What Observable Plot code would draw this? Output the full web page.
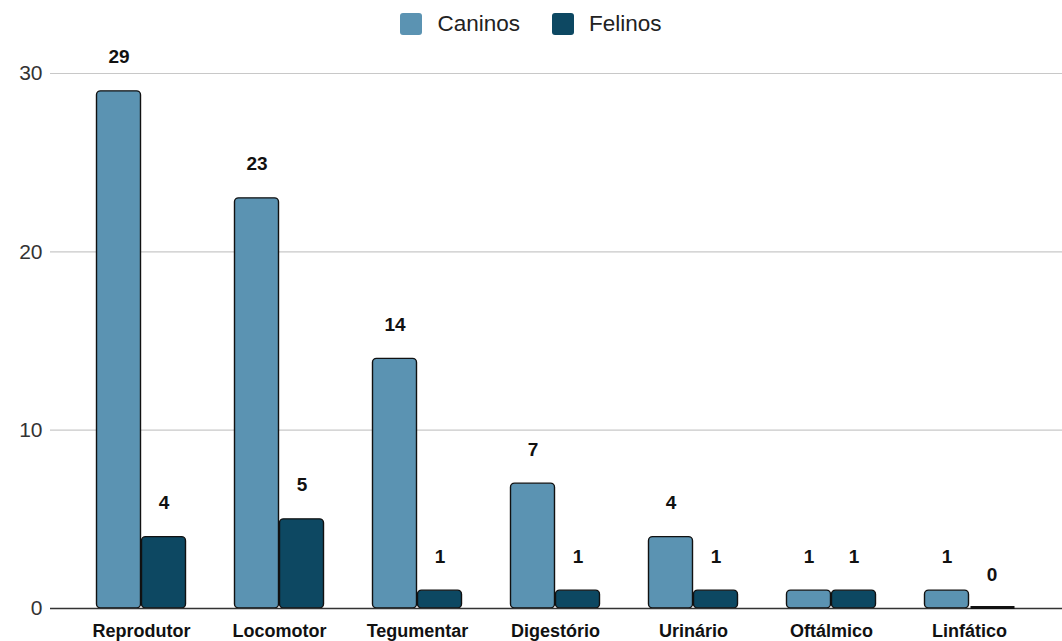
<!DOCTYPE html>
<html>
<head>
<meta charset="utf-8">
<script src="https://cdn.jsdelivr.net/npm/d3@7"></script>
<script src="https://cdn.jsdelivr.net/npm/@observablehq/plot@0.6"></script>
<style>
  html, body { margin: 0; padding: 0; background: #fff; }
  body { width: 1062px; height: 641px; overflow: hidden; font-family: "Liberation Sans", Arial, sans-serif; }
  .legend { height: 45px; display: flex; justify-content: center; align-items: center; gap: 32px; font-size: 22.5px; color: #222; padding-top: 3px; box-sizing: border-box; }
  .legend .item { display: flex; align-items: center; gap: 15px; }
  .legend .sw { width: 22px; height: 22px; border-radius: 3px; }
</style>
</head>
<body>
<div id="legend" class="legend"></div>
<div id="chart"></div>
<script>
// Casos por sistema orgânico, caninos e felinos
const categories = ["Reprodutor", "Locomotor", "Tegumentar", "Digestório", "Urinário", "Oftálmico", "Linfático"];
const caninos = [29, 23, 14, 7, 4, 1, 1];
const felinos = [4, 5, 1, 1, 1, 1, 0];
const yTicks = [0, 10, 20, 30];
const seriesNames = ["Caninos", "Felinos"];
const seriesColors = ["#5b93b2", "#0d4862"];

const rows = categories.flatMap((c, i) => [
  {categoria: c, serie: seriesNames[0], valor: caninos[i]},
  {categoria: c, serie: seriesNames[1], valor: felinos[i]}
]);

// legenda
const legend = document.getElementById("legend");
seriesNames.forEach((s, i) => {
  const item = document.createElement("div");
  item.className = "item";
  const sw = document.createElement("div");
  sw.className = "sw";
  sw.style.background = seriesColors[i];
  const t = document.createElement("span");
  t.textContent = s;
  item.append(sw, t);
  legend.append(item);
});

// posição de cada série dentro da faixa da categoria
const bandInset = {Caninos: [24.5, 69.5], Felinos: [69.5, 24.5]};

const barFor = (s) => Plot.barY(rows.filter(d => d.serie === s && d.valor > 0), {
  x: "categoria",
  y: "valor",
  fill: seriesColors[seriesNames.indexOf(s)],
  stroke: "#111",
  strokeWidth: 1.4,
  rx: 4,
  insetLeft: bandInset[s][0],
  insetRight: bandInset[s][1]
});

// barras de valor zero aparecem como um traço sobre a linha de base
const zeroFor = (s) => Plot.tickY(rows.filter(d => d.serie === s && d.valor === 0), {
  x: "categoria",
  y: "valor",
  stroke: "#111",
  strokeWidth: 3,
  insetLeft: bandInset[s][0] + 1,
  insetRight: bandInset[s][1] - 1,
  dy: -1
});

const labelFor = (s) => Plot.text(rows.filter(d => d.serie === s), {
  x: "categoria",
  y: "valor",
  text: d => String(d.valor),
  dx: s === "Caninos" ? -22.5 : 22.5,
  dy: -34,
  fontSize: 19,
  fontWeight: "bold",
  fill: "#111"
});

const chart = Plot.plot({
  width: 1062,
  height: 596,
  marginLeft: 50,
  marginRight: 0,
  marginTop: 28,
  marginBottom: 33,
  style: {fontFamily: "'Liberation Sans', Arial, sans-serif", background: "#fff", overflow: "visible"},
  x: {domain: categories, padding: 0, insetLeft: 21, insetRight: 23, label: null},
  y: {domain: [0, 30], label: null},
  marks: [
    Plot.ruleY(yTicks.filter(v => v > 0), {stroke: "#c8c8c8", strokeWidth: 1.2}),
    Plot.axisY({ticks: yTicks, tickSize: 0, tickPadding: 8, fontSize: 21, fill: "#333", label: null}),
    Plot.axisX({tickSize: 0, tickPadding: 16, fontSize: 18, fontWeight: "bold", fill: "#111", label: null}),
    barFor("Caninos"),
    barFor("Felinos"),
    Plot.ruleY([0], {stroke: "#333", strokeWidth: 1.5}),
    zeroFor("Caninos"),
    zeroFor("Felinos"),
    labelFor("Caninos"),
    labelFor("Felinos")
  ]
});
document.getElementById("chart").append(chart);
</script>
</body>
</html>
